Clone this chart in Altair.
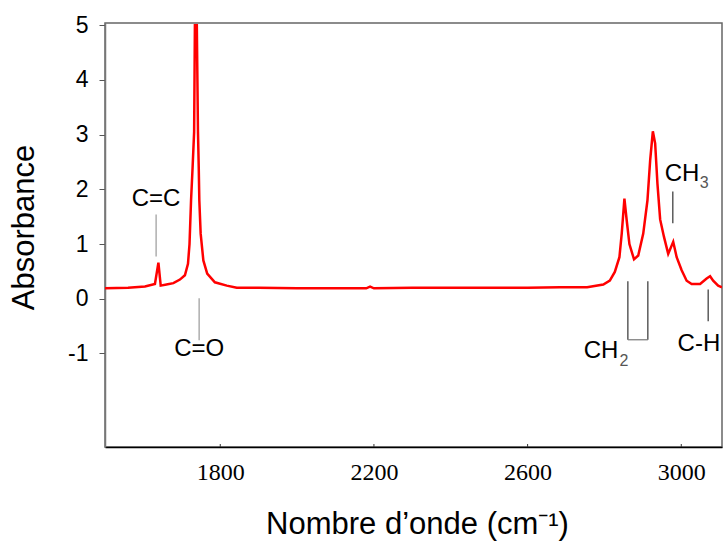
import altair as alt
import pandas as pd

# ---- spectrum data ----
wavenumber = [1500, 1560, 1604, 1630, 1639, 1645, 1660, 1678, 1695, 1708, 1716, 1720,
              1724, 1728, 1732, 1734, 1739, 1742, 1744, 1745.5, 1749, 1756, 1766, 1786,
              1817, 1843, 1900, 2000, 2100, 2180, 2190, 2200, 2300, 2450, 2600, 2684,
              2755, 2797, 2814, 2827, 2839, 2845, 2852, 2858, 2865, 2877, 2888, 2901,
              2912, 2919, 2926, 2932, 2938, 2945, 2955, 2966, 2979, 2988, 3001, 3014,
              3027, 3049, 3066, 3075, 3083, 3096, 3106]
absorbance = [0.19, 0.20, 0.225, 0.27, 0.66, 0.24, 0.26, 0.285, 0.35, 0.43, 0.64, 1.0,
              1.8, 2.4, 3.05, 5.0, 5.0, 3.05, 2.4, 1.8, 1.19, 0.70, 0.46, 0.30,
              0.24, 0.20, 0.20, 0.19, 0.19, 0.19, 0.22, 0.19, 0.20, 0.20, 0.20, 0.21,
              0.21, 0.26, 0.33, 0.49, 0.76, 1.19, 1.83, 1.43, 1.00, 0.72, 0.79, 1.19,
              1.80, 2.53, 3.06, 2.84, 2.10, 1.45, 1.13, 0.82, 1.04, 0.76, 0.52, 0.33,
              0.27, 0.27, 0.37, 0.41, 0.33, 0.24, 0.21]

x_ticks = [1800, 2200, 2600, 3000]
y_ticks = [-1, 0, 1, 2, 3, 4, 5]

# ---- annotations (data coordinates) ----
label_text = ["C=C", "C=O", "CH", "CH", "C-H"]
label_x = [1633, 1745, 2791, 3002, 3046]
label_y = [1.83, -0.91, -0.95, 2.28, -0.82]

sub_text = ["2", "3"]
sub_x = [2851, 3060]
sub_y = [-1.13, 2.11]

lead_left_x = [1633, 1745]
lead_left_y1 = [1.54, 0.01]
lead_left_y2 = [0.77, -0.76]

lead_right_x = [2861, 2913, 2978, 3070]
lead_right_y1 = [0.32, 0.32, 1.96, 0.17]
lead_right_y2 = [-0.75, -0.75, 1.38, -0.41]

bracket_x1 = [2861]
bracket_x2 = [2913]
bracket_y = [-0.75]

spec_df = pd.DataFrame({"wn": wavenumber, "a": absorbance})
lab_df = pd.DataFrame({"t": label_text, "wn": label_x, "a": label_y})
sub_df = pd.DataFrame({"t": sub_text, "wn": sub_x, "a": sub_y})
ll_df = pd.DataFrame({"wn": lead_left_x, "a": lead_left_y1, "a2": lead_left_y2})
lr_df = pd.DataFrame({"wn": lead_right_x, "a": lead_right_y1, "a2": lead_right_y2})
br_df = pd.DataFrame({"wn": bracket_x1, "wn2": bracket_x2, "a": bracket_y})
tick_df = pd.DataFrame({"wn": x_ticks})

FONT = "Liberation Sans"
X_TITLE = "Nombre d’onde (cm⁻¹)"
x_scale = alt.Scale(domain=[1500, 3106], nice=False, zero=False)
y_scale = alt.Scale(domain=[-2.71, 5.04], nice=False, zero=False)

x_axis = alt.Axis(
    values=x_ticks, title=X_TITLE, grid=False, ticks=False,
    domainColor="#000000", domainWidth=1.5,
    labelFont="Liberation Sans Narrow", labelFontSize=24, labelColor="#000000",
    labelPadding=13, labelFlush=False, format="d",
    titleFont=FONT, titleFontSize=31, titleFontWeight="normal", titleColor="#000000",
    titleX=312, titleY=86, titleBaseline="alphabetic")
y_axis = alt.Axis(
    values=y_ticks, title="Absorbance", grid=False, ticks=True, tickSize=6,
    tickColor="#555555", domainColor="#777777", domainWidth=1.5,
    labelFont=FONT, labelFontSize=23, labelColor="#000000", labelPadding=11,
    labelExpr="'' + datum.value",
    titleFont=FONT, titleFontSize=31, titleFontWeight="normal", titleColor="#000000",
    titleAngle=270, titleX=-72, titleY=204, titleBaseline="alphabetic",
    titleAlign="center")


def X(field):
    return alt.X(field, scale=x_scale, axis=x_axis, title=X_TITLE)


def Y(field):
    return alt.Y(field, scale=y_scale, axis=y_axis, title="Absorbance")


spectrum = alt.Chart(spec_df).mark_line(color="#ff0000", strokeWidth=2.5, clip=True).encode(
    x=X("wn:Q"), y=Y("a:Q"),
)

xticks = alt.Chart(tick_df).mark_rule(color="#333333", strokeWidth=1).encode(
    x=X("wn:Q"), y=alt.value(421), y2=alt.value(424),
)

leads_left = alt.Chart(ll_df).mark_rule(color="#999999", strokeWidth=1.2).encode(
    x=X("wn:Q"), y=Y("a:Q"), y2="a2:Q",
)
leads_right = alt.Chart(lr_df).mark_rule(color="#333333", strokeWidth=1.2).encode(
    x=X("wn:Q"), y=Y("a:Q"), y2="a2:Q",
)
bracket = alt.Chart(br_df).mark_rule(color="#777777", strokeWidth=1.2).encode(
    x=X("wn:Q"), x2="wn2:Q", y=Y("a:Q"),
)

labels = alt.Chart(lab_df).mark_text(font=FONT, fontSize=24, color="#000000",
                                     align="center", baseline="middle").encode(
    x=X("wn:Q"), y=Y("a:Q"), text="t:N",
)
subs = alt.Chart(sub_df).mark_text(font=FONT, fontSize=16, color="#555555",
                                   align="center", baseline="middle").encode(
    x=X("wn:Q"), y=Y("a:Q"), text="t:N",
)

chart = alt.layer(spectrum, xticks, leads_left, leads_right, bracket, labels, subs).properties(
    width=617, height=424,
    autosize=alt.AutoSizeParams(type="none"),
    padding={"left": 105, "top": 23, "right": 2, "bottom": 100},
    background="#ffffff",
).configure_view(stroke="#666666", strokeWidth=1.5)

chart.save("out.html", embed_options={"renderer": "svg", "actions": False})
